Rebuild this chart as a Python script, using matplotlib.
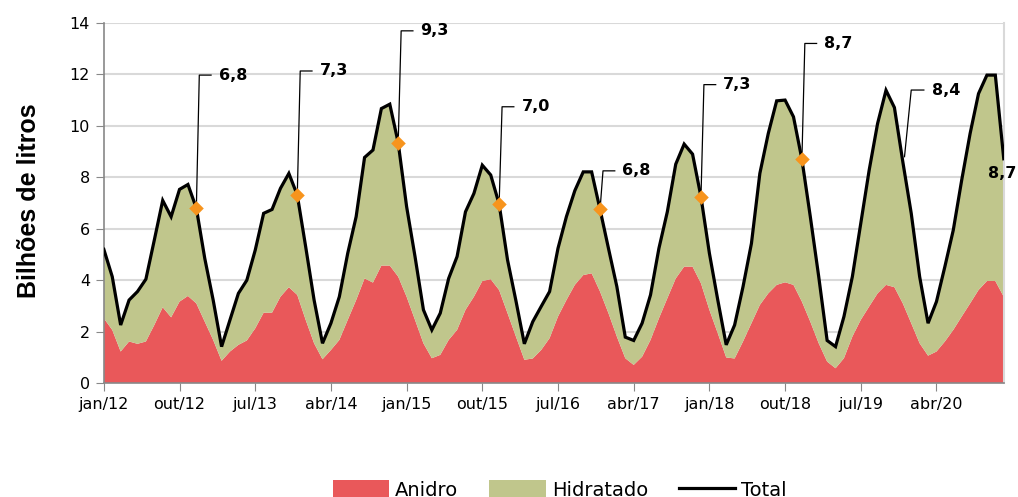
import matplotlib.pyplot as plt
import numpy as np

# monthly volumes, jan/12 .. dez/20 (billions of litres)
total = [5.2, 4.14, 2.26, 3.23, 3.56, 4.04, 5.56, 7.1, 6.47, 7.53, 7.72, 6.8,
         4.85, 3.23, 1.42, 2.46, 3.49, 4.0, 5.17, 6.6, 6.75, 7.57, 8.15, 7.31,
         5.3, 3.23, 1.55, 2.33, 3.36, 5.05, 6.47, 8.77, 9.06, 10.67, 10.84, 9.34,
         6.86, 4.92, 2.85, 2.07, 2.72, 4.07, 4.92, 6.66, 7.37, 8.47, 8.09, 6.96,
         4.79, 3.2, 1.53, 2.39, 2.98, 3.56, 5.24, 6.47, 7.48, 8.21, 8.21, 6.75,
         5.24, 3.75, 1.79, 1.66, 2.33, 3.43, 5.24, 6.66, 8.51, 9.29, 8.9, 7.24,
         5.05, 3.23, 1.49, 2.26, 3.75, 5.43, 8.15, 9.7, 10.97, 11.0, 10.35, 8.7,
         6.47, 4.14, 1.66, 1.42, 2.59, 4.14, 6.21, 8.28, 10.09, 11.38, 10.71, 8.6,
         6.6, 4.14, 2.33, 3.17, 4.53, 5.95, 7.89, 9.7, 11.25, 11.97, 11.97, 8.72]
anidro = [2.52, 2.07, 1.23, 1.62, 1.53, 1.62, 2.26, 2.95, 2.56, 3.17, 3.39, 3.1,
          2.39, 1.68, 0.87, 1.23, 1.49, 1.66, 2.13, 2.74, 2.74, 3.36, 3.73, 3.43,
          2.46, 1.55, 0.93, 1.29, 1.68, 2.46, 3.23, 4.07, 3.91, 4.57, 4.57, 4.14,
          3.36, 2.46, 1.55, 0.97, 1.1, 1.68, 2.07, 2.85, 3.36, 3.97, 4.04, 3.62,
          2.72, 1.81, 0.91, 0.96, 1.29, 1.75, 2.59, 3.23, 3.82, 4.2, 4.27, 3.56,
          2.72, 1.81, 0.97, 0.71, 1.03, 1.68, 2.52, 3.3, 4.07, 4.53, 4.53, 3.88,
          2.85, 1.94, 1.0, 0.96, 1.62, 2.33, 3.04, 3.49, 3.82, 3.92, 3.82, 3.17,
          2.39, 1.55, 0.84, 0.58, 0.97, 1.81, 2.46, 2.98, 3.49, 3.82, 3.73, 3.1,
          2.33, 1.55, 1.07, 1.23, 1.62, 2.07, 2.59, 3.1, 3.62, 3.97, 3.97, 3.36]
hidratado = [t - a for t, a in zip(total, anidro)]

tick_labels = ['jan/12', 'out/12', 'jul/13', 'abr/14', 'jan/15', 'out/15',
               'jul/16', 'abr/17', 'jan/18', 'out/18', 'jul/19', 'abr/20']

# december highlights
dez_idx = [11, 23, 35, 47, 59, 71, 83]
dez_labels = ['6,8', '7,3', '9,3', '7,0', '6,8', '7,3', '8,7']
label_y = [11.97, 12.13, 13.69, 10.74, 8.25, 11.6, 13.2]

x = np.arange(len(total))

fig = plt.figure(figsize=(10.18, 4.97), dpi=100)
ax = fig.add_axes([0.102, 0.229, 0.884, 0.725])

ax.stackplot(x, anidro, hidratado, colors=['#E9585A', '#C0C68C'],
             labels=['Anidro', 'Hidratado'], zorder=2)
ax.plot(x, total, color='black', lw=2.3, label='Total', zorder=3,
        solid_joinstyle='miter')

# leader lines and labels
for i, lab, ly in zip(dez_idx, dez_labels, label_y):
    xe = i + 0.35
    ax.plot([i, xe, xe + 1.4], [total[i], ly, ly], color='black', lw=0.9, zorder=4)
    ax.text(xe + 2.3, ly, lab, fontsize=11.5, fontweight='bold',
            va='center', ha='left', zorder=5)
ax.scatter(dez_idx, [total[i] for i in dez_idx], marker='D', s=55,
           color='#F7941D', zorder=6, linewidths=0)

# dez/19 label (no marker)
ax.plot([95.2, 96.0, 97.5], [8.8, 11.39, 11.39], color='black', lw=0.9, zorder=4)
ax.text(98.5, 11.39, '8,4', fontsize=11.5, fontweight='bold', va='center', zorder=5)
# last value
ax.text(106.85, 8.15, '8,7', fontsize=11.5, fontweight='bold', va='center',
        ha='center', clip_on=False, zorder=5)

ax.set_xlim(0, len(total) - 1)
ax.set_ylim(0, 14)
ax.set_yticks(range(0, 15, 2))
ax.set_xticks(range(0, len(total), 9))
ax.set_xticklabels(tick_labels)
ax.tick_params(axis='both', labelsize=11.5, length=6, color='#888888', pad=4)
ax.grid(axis='y', color='#D9D9D9', lw=1.5, zorder=0)
ax.set_axisbelow(True)
for s in ['left', 'bottom']:
    ax.spines[s].set_color('#888888')
    ax.spines[s].set_linewidth(1.2)
ax.spines['right'].set_color('#D9D9D9')
ax.spines['right'].set_linewidth(1.5)
ax.spines['top'].set_visible(False)

fig.text(0.028, 0.597, 'Bilhões de litros', rotation=90, fontsize=18,
         fontweight='bold', family='Liberation Sans', ha='center', va='center')

fig.legend(loc='center', bbox_to_anchor=(0.55, 0.014), ncol=3, frameon=False,
           fontsize=14, handlelength=2.9, handleheight=1.0, columnspacing=1.6,
           handletextpad=0.3)

fig.savefig('out.png', dpi=100)
